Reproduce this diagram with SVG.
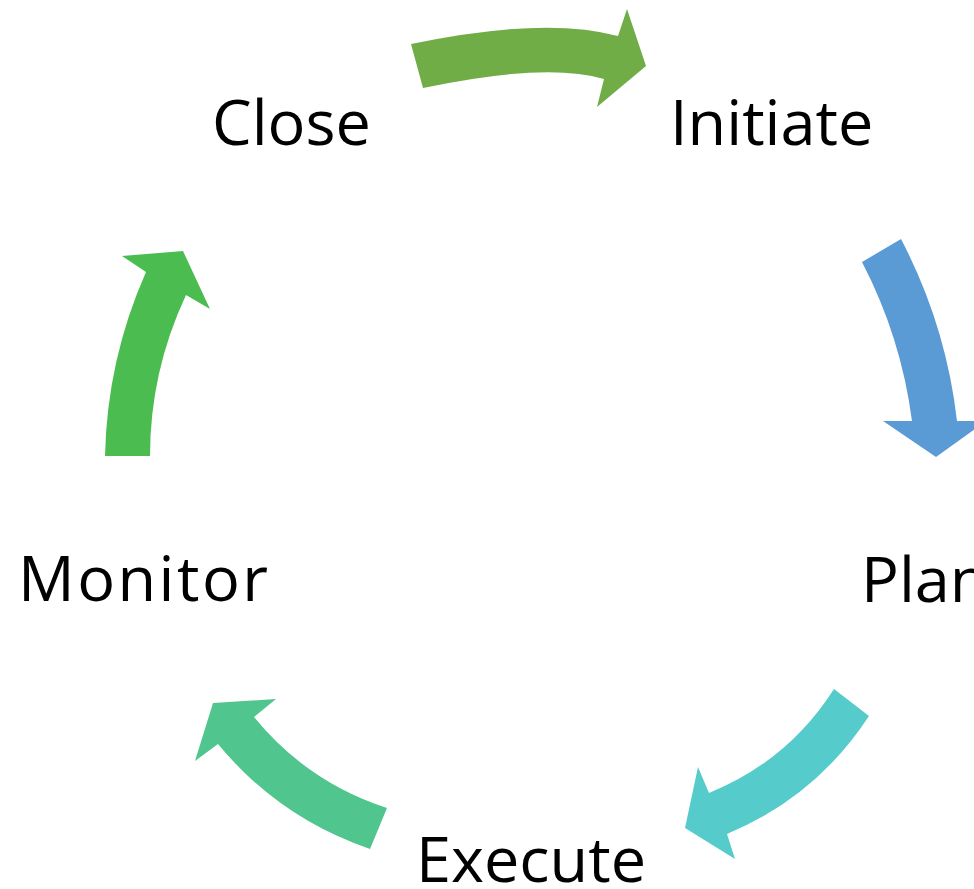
<svg xmlns="http://www.w3.org/2000/svg" width="974" height="889" viewBox="0 0 974 889">
  <style>
    .label { font-family: "Open Sans", "Noto Sans", "Liberation Sans", sans-serif; font-size: 63px; fill: #000000; }
  </style>
  <rect x="0" y="0" width="974" height="889" fill="#ffffff"/>
  <g id="connectors">
    <path id="arrow-close-initiate" fill="#70AD47" d="M411,44 Q545,16 618,36 L627,9 L646,66 L597,107 L604,79 Q546,62 423,88 Z"/>
    <path id="arrow-initiate-plan" fill="#5B9BD5" d="M901,239 Q946,325 957,421 L986,421 L936,457 L883,421 L912,421 Q901,337 862,262 Z"/>
    <path id="arrow-plan-execute" fill="#55CBCC" d="M869,716 Q816,797 727,834 L735,859 L685,828 L698,767 L709,793 Q788,761 834,689 Z"/>
    <path id="arrow-execute-monitor" fill="#50C58D" d="M370,849 Q279,818 218,744 L195,761 L213,703 L276,699 L254,717 Q307,782 387,808 Z"/>
    <path id="arrow-monitor-close" fill="#4BBD50" d="M105,456 Q107,360 146,272 L122,256 L183,251 L210,309 L186,295 Q150,372 150,456 Z"/>
  </g>
  <g id="node-close"><text class="label" x="212" y="145">Close</text></g>
  <g id="node-initiate"><text class="label" x="670" y="145">Initiate</text></g>
  <g id="node-plan"><text class="label" x="861" y="602">Plan</text></g>
  <g id="node-execute"><text class="label" x="416" y="882">Execute</text></g>
  <g id="node-monitor"><text class="label" x="18" y="601" textLength="250">Monitor</text></g>
</svg>
